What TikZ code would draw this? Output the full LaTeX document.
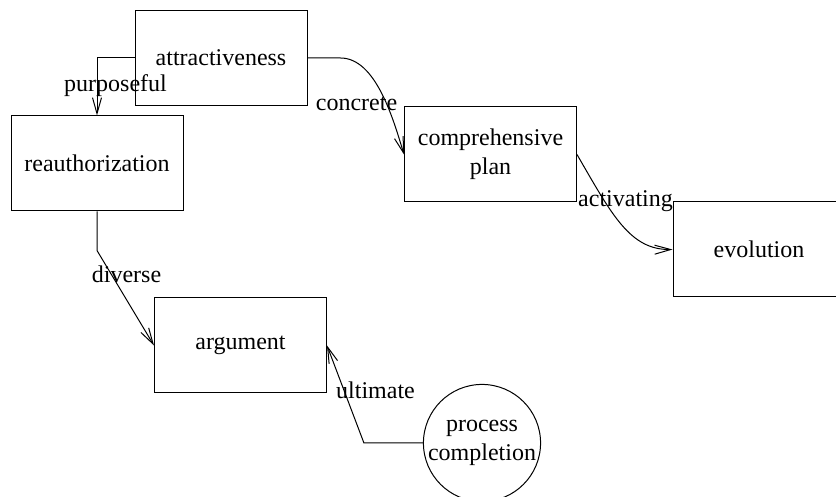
\documentclass[tikz,border=0pt]{standalone}
\usepackage{fontspec}
\setmainfont{Liberation Serif}
\usepackage{tikz}
\usetikzlibrary{arrows.meta,positioning}
\newcommand{\nf}{\fontsize{12}{14.5}\selectfont}

\begin{document}
\begin{tikzpicture}[x=0.5pt, y=-0.5pt, line width=0.5pt,
  every node/.style={font=\nf},
  box/.style={draw, rectangle, minimum width=86pt, minimum height=47.5pt, inner sep=0pt, align=center},
  rnd/.style={draw, circle, minimum size=58pt, inner sep=0pt, align=center},
  lbl/.style={inner sep=0pt, anchor=base},
  conn/.style={-{Straight Barb[length=8pt,width=4.5pt]}}]
\useasboundingbox (0,0) rectangle (836,497);
% ---- nodes
\node[box] (attr) at (221,58) {attractiveness};
\node[box] (reauth) at (97,163.5) {reauthorization};
\node[box] (plan) at (490.5,154.5) {comprehensive\\plan};
\node[box] (evo) at (759,249.5) {evolution};
\node[box] (arg) at (240.5,345.5) {argument};
\node[rnd] (proc) at (482,443) {process\\completion};
% ---- connectors
\draw[conn] (attr.west) -| (reauth.north);
\draw[conn] (attr.east) -- ++(33,0) .. controls +(35,0) and (393,118) .. (plan.west);
\draw[conn] (plan.east) .. controls (612,215) and (630,250) .. (evo.west);
\draw[conn] (reauth.south) -- ++(0,39) -- (arg.west);
\draw[conn] (proc.west) -- ++(-59,0) -- (arg.east);
% ---- edge labels
\node[lbl] (lpurposeful) at (115.5,92) {purposeful};
\node[lbl] (lconcrete) at (356.5,111) {concrete};
\node[lbl] (lactivating) at (625.5,207) {activating};
\node[lbl] (ldiverse) at (126.5,283) {diverse};
\node[lbl] (lultimate) at (375.5,399) {ultimate};
\end{tikzpicture}
\end{document}
